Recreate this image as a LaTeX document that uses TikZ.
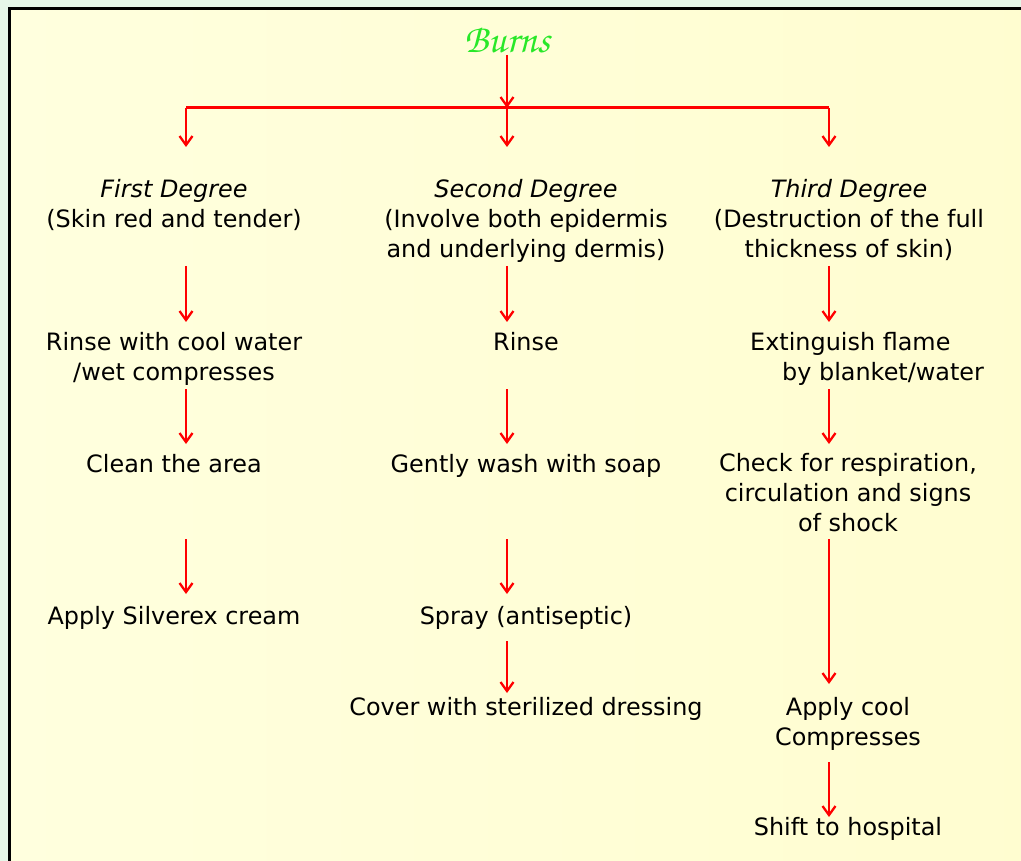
\documentclass[tikz,border=0pt]{standalone}
\usepackage[T1]{fontenc}
\usepackage{fontspec}
\setmainfont{DejaVu Sans}
\usetikzlibrary{arrows.meta}
\definecolor{outerbg}{RGB}{230,247,232}
\definecolor{innerL}{RGB}{255,255,222}
\definecolor{innerR}{RGB}{255,253,208}
\definecolor{burnsgreen}{RGB}{40,232,40}
\definecolor{arrred}{RGB}{255,0,0}
\begin{document}
\begin{tikzpicture}[x=1pt,y=-1pt,
  txt/.style={font=\fontsize{23.9}{30}\selectfont, inner sep=0pt, align=center, anchor=base},
  head/.style={txt, font=\fontsize{23.9}{30}\selectfont\itshape},
  arr/.style={draw=arrred, line width=2.3pt, -{Straight Barb[length=9pt,width=13pt,line width=2.3pt]}},
  bar/.style={draw=arrred, line width=3pt}]
\useasboundingbox (0,0) rectangle (1021,861);
\clip (0,0) rectangle (1021,861);
\fill[outerbg] (0,0) rectangle (1021,861);
\shade[left color=innerL, right color=innerR] (9,9) rectangle (1040,880);
\draw[black, line width=3pt] (1040,9) -- (9,9) -- (9,880);

% title
\node[anchor=base, inner sep=0pt, text=burnsgreen] (burns) at (507,53)
  {\fontencoding{T1}\fontfamily{pzc}\fontseries{mb}\fontshape{it}\fontsize{40}{42}\selectfont Burns};

% branching
\coordinate (top) at (507,55);
\coordinate (bl) at (186,108);
\coordinate (bm) at (507,108);
\coordinate (br) at (829,108);
\draw[bar] (bl) -- (br);
\draw[arr] (top) -- (bm);
\coordinate (h1) at (186,147);
\coordinate (h2) at (507,147);
\coordinate (h3) at (829,147);
\draw[arr] (bl) -- (h1);
\draw[arr] (bm) -- (h2);
\draw[arr] (br) -- (h3);

% column 1 (multi-line nodes: base = last line)
\node[head] (d1) at (174,198) {First Degree};
\node[txt] (d1t) at (174,228) {(Skin red and tender)};
\node[txt] (r1) at (174,381) {Rinse with cool water\\/wet compresses};
\node[txt] (c1) at (174,472) {Clean the area};
\node[txt] (s1) at (174,624) {Apply Silverex cream};

% column 2
\node[head] (d2) at (526,198) {Second Degree};
\node[txt] (d2t) at (526,258) {(Involve both epidermis\\and underlying dermis)};
\node[txt] (r2) at (526,351) {Rinse};
\node[txt] (w2) at (526,472) {Gently wash with soap};
\node[txt] (p2) at (526,624) {Spray (antiseptic)};
\node[txt] (v2) at (526,715) {Cover with sterilized dressing};

% column 3
\node[head] (d3) at (849,198) {Third Degree};
\node[txt] (d3t) at (849,258) {(Destruction of the full\\thickness of skin)};
\node[txt, align=left, anchor=base west] (e3) at (750,381) {Extinguish flame\\\hspace*{32pt}by blanket/water};
\node[txt] (k3) at (848,531) {Check for respiration,\\circulation and signs\\of shock};
\node[txt] (a3) at (848,745) {Apply cool\\Compresses};
\node[txt] (h3t) at (848,835) {Shift to hospital};

% arrows column 1
\coordinate (a1s) at (186,266); \coordinate (a1e) at (186,322);
\coordinate (a2s) at (186,389); \coordinate (a2e) at (186,444);
\coordinate (a3s) at (186,539); \coordinate (a3e) at (186,594);
\draw[arr] (a1s) -- (a1e);
\draw[arr] (a2s) -- (a2e);
\draw[arr] (a3s) -- (a3e);

% arrows column 2
\coordinate (b1s) at (507,266); \coordinate (b1e) at (507,322);
\coordinate (b2s) at (507,389); \coordinate (b2e) at (507,444);
\coordinate (b3s) at (507,539); \coordinate (b3e) at (507,594);
\coordinate (b4s) at (507,641); \coordinate (b4e) at (507,693);
\draw[arr] (b1s) -- (b1e);
\draw[arr] (b2s) -- (b2e);
\draw[arr] (b3s) -- (b3e);
\draw[arr] (b4s) -- (b4e);

% arrows column 3
\coordinate (c1s) at (829,266); \coordinate (c1e) at (829,322);
\coordinate (c2s) at (829,389); \coordinate (c2e) at (829,444);
\coordinate (c3s) at (829,539); \coordinate (c3e) at (829,684);
\coordinate (c4s) at (829,762); \coordinate (c4e) at (829,817);
\draw[arr] (c1s) -- (c1e);
\draw[arr] (c2s) -- (c2e);
\draw[arr] (c3s) -- (c3e);
\draw[arr] (c4s) -- (c4e);
\end{tikzpicture}
\end{document}
